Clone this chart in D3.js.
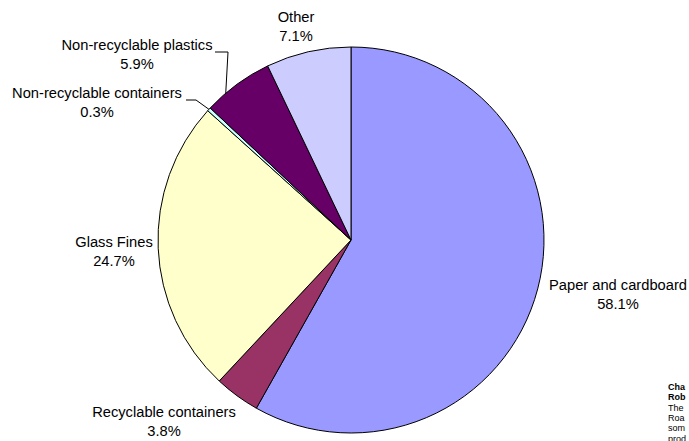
<!DOCTYPE html>
<html>
<head>
<meta charset="utf-8">
<script src="https://cdn.jsdelivr.net/npm/d3@7"></script>
<style>
  html, body { margin: 0; padding: 0; background: #fff; }
  svg { display: block; }
  text { font-family: Arial, "Liberation Sans", sans-serif; fill: #000; }
</style>
</head>
<body>
<svg id="chart" width="689" height="441"></svg>
<script>
// Waste composition (percent of total), clockwise from 12 o'clock
const categories = [
  "Paper and cardboard",
  "Recyclable containers",
  "Glass Fines",
  "Non-recyclable containers",
  "Non-recyclable plastics",
  "Other"
];
const shares = [58.1, 3.8, 24.7, 0.3, 5.9, 7.1];
const sliceColors = ["#9999FF", "#993366", "#FFFFCC", "#CCFFFF", "#660066", "#CCCCFF"];

// Note text at the lower right (runs past the edge)
const noteLines = ["Cha", "Rob", "The", "Roa", "som", "prod"];

const svg = d3.select("#chart");
const cx = 351, cy = 240, radius = 193;

const pie = d3.pie().sort(null).value(d => d.value);
const arc = d3.arc().innerRadius(0).outerRadius(radius);
const data = categories.map((c, i) => ({ name: c, value: shares[i], color: sliceColors[i] }));
const arcs = pie(data);

const g = svg.append("g").attr("transform", `translate(${cx},${cy})`);
g.selectAll("path.slice")
  .data(arcs)
  .join("path")
  .attr("class", "slice")
  .attr("d", arc)
  .attr("fill", d => d.data.color)
  .attr("stroke", "#000")
  .attr("stroke-width", 1)
  .attr("stroke-linejoin", "round");

// Label placement (centre x, first-line baseline) for each slice
const labelLayout = [
  { x: 618, y: 290 },
  { x: 164, y: 417 },
  { x: 114, y: 247 },
  { x: 97,  y: 98 },
  { x: 137, y: 50 },
  { x: 296, y: 22 }
];
const fmt = d3.format(".1f");

const labels = svg.append("g");
arcs.forEach((a, i) => {
  const t = labels.append("text")
    .attr("text-anchor", "middle")
    .attr("font-size", 14.7);
  t.append("tspan").attr("x", labelLayout[i].x).attr("y", labelLayout[i].y).text(a.data.name);
  t.append("tspan").attr("x", labelLayout[i].x).attr("y", labelLayout[i].y + 18.5).text(fmt(a.data.value) + "%");
});

// Leader lines for the two narrow slices: elbow from label to slice edge
function edgePoint(a, frac) {
  const ang = a.startAngle + (a.endAngle - a.startAngle) * frac;
  return [cx + Math.sin(ang) * radius, cy - Math.cos(ang) * radius];
}
const leaders = [
  { idx: 3, start: [186, 100], elbow: [196, 100], frac: 0.5 },
  { idx: 4, start: [215, 52], elbow: [228, 52], frac: 0.3 }
];
leaders.forEach(l => {
  const p = edgePoint(arcs[l.idx], l.frac);
  svg.append("polyline")
    .attr("points", [l.start, l.elbow, p].map(q => q.join(",")).join(" "))
    .attr("fill", "none")
    .attr("stroke", "#000")
    .attr("stroke-width", 1);
});

// Lower-right note
const note = svg.append("g");
noteLines.forEach((s, i) => {
  note.append("text")
    .attr("x", 668)
    .attr("y", 390 + i * 10.3)
    .attr("font-size", 9)
    .attr("font-weight", i < 2 ? "bold" : "normal")
    .text(s);
});
</script>
</body>
</html>
